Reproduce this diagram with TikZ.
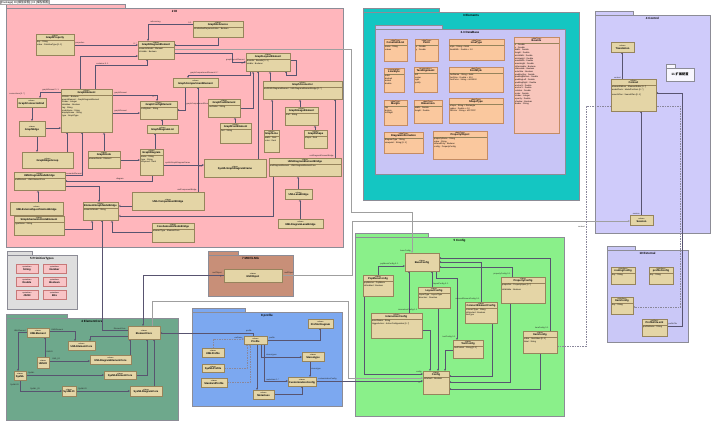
\documentclass[tikz,border=0pt]{standalone}
\usepackage{fontspec}
\setmainfont{Liberation Sans}
\newfontfamily\cjk{Noto Sans CJK SC}
\usetikzlibrary{arrows.meta,shadows}
\pgfdeclarelayer{pk}
\pgfdeclarelayer{ln}
\pgfsetlayers{pk,ln,main}
\definecolor{pinkDI}{RGB}{255,182,188}
\definecolor{cyanE}{RGB}{20,198,194}
\definecolor{lavIn}{RGB}{200,197,246}
\definecolor{lavCtl}{RGB}{207,203,250}
\definecolor{lavExt}{RGB}{202,200,247}
\definecolor{grayP}{RGB}{222,222,222}
\definecolor{brownM}{RGB}{200,143,120}
\definecolor{dgreen}{RGB}{110,168,140}
\definecolor{blueP}{RGB}{124,168,240}
\definecolor{lgreen}{RGB}{138,240,138}
\definecolor{tanC}{RGB}{228,213,166}
\definecolor{tanB}{RGB}{150,132,92}
\definecolor{orC}{RGB}{250,200,158}
\definecolor{orB}{RGB}{196,140,100}
\definecolor{bdC}{RGB}{248,198,188}
\definecolor{pkP}{RGB}{248,196,198}
\definecolor{pkB}{RGB}{200,120,120}
\definecolor{pkgB}{RGB}{140,140,150}
\definecolor{lnc}{RGB}{88,84,112}
\newcommand\stf{\fontsize{1.9}{2.3}\selectfont}
\newcommand\nmf{\fontsize{2.6}{3}\selectfont\bfseries}
\newcommand\hdf{\fontsize{2.4}{2.8}\selectfont}
\newcommand\atf{\fontsize{2.1}{2.7}\selectfont}
\newcommand\lbf{\fontsize{2}{2.4}\selectfont}
\newcommand\ptf{\fontsize{3}{3.4}\selectfont\bfseries}
\tikzset{
 cfill/.style={fill=tanC, draw=tanB},
 clsbox/.style={cfill, anchor=north west, inner sep=0pt, outer sep=0pt, line width=0.3pt,
   drop shadow={shadow xshift=0.5pt, shadow yshift=-0.5pt, fill=black, opacity=0.25}},
 hdr/.style={anchor=north, inner sep=0pt, align=center, font=\hdf},
 attr/.style={anchor=north west, inner sep=0pt, align=left, font=\atf},
 sepl/.style={draw=tanB, line width=0.2pt},
 pkgbody/.style={draw=pkgB, line width=0.4pt, inner sep=0pt, outer sep=0pt, anchor=north west},
 pkgtab/.style={draw=pkgB, line width=0.4pt, inner sep=0pt, outer sep=0pt, anchor=south west},
 ptitle/.style={anchor=north, inner sep=0pt, font=\ptf},
 conn/.style={draw=lnc, line width=0.3pt, -{Stealth[length=2.2pt,width=1.8pt]}},
 gen/.style={draw=lnc, line width=0.3pt, -{Triangle[open,length=2.4pt,width=2.4pt]}},
 dep/.style={draw=lnc!70, line width=0.3pt, dash pattern=on 1.5pt off 1pt, -{Stealth[length=2.2pt,width=1.8pt]}},
 lbl/.style={font=\lbf, inner sep=0.2pt, text=black!85},
}
\newcommand{\umlcls}[8]{%
 \pgfmathsetmacro\ucw{#4-#2}%
 \pgfmathsetmacro\uch{#5-#3}%
 \node[clsbox, minimum width=\ucw pt, minimum height=\uch pt] (#1) at (#2,#3) {};%
 \if\relax\detokenize{#8}\relax
  \node[hdr, anchor=center] (#1-h) at (#1.center) {{\stf #6}\\{\nmf #7}};%
 \else
  \node[hdr] (#1-h) at ([yshift=-0.6pt]#1.north) {{\stf #6}\\{\nmf #7}};%
  \draw[sepl] ([yshift=-6.2pt]#1.north west) -- ([yshift=-6.2pt]#1.north east);%
  \node[attr] (#1-a) at ([xshift=1pt,yshift=-6.8pt]#1.north west) {#8};%
 \fi}
\newcommand{\umlpkg}[8]{%
 \pgfmathsetmacro\upw{#4-#2}%
 \pgfmathsetmacro\uph{#5-#3}%
 \pgfmathsetmacro\utw{#6-#2}%
 \node[pkgtab, fill=#7, minimum width=\utw pt, minimum height=4pt] (#1-tab) at (#2,#3) {};%
 \node[pkgbody, fill=#7, minimum width=\upw pt, minimum height=\uph pt] (#1) at (#2,#3) {};%
 \node[ptitle] (#1-t) at ([yshift=-2.5pt]#1.north) {#8};}
\begin{document}
\begin{tikzpicture}[x=1pt,y=-1pt]
\useasboundingbox (0,0) rectangle (711,424);
\begin{pgfonlayer}{pk}
\fill[white] (0,0) rectangle (711,424);
\umlpkg{di}{6}{8}{343}{247}{125}{pinkDI}{2 DI}
\umlpkg{el}{363}{12}{579}{200}{439}{cyanE}{3 Elements}
\umlpkg{db}{375}{29}{565}{174}{442}{lavIn}{3.3 DataBase}
\umlpkg{ctl}{595}{15}{710}{233}{633}{lavCtl}{4 Control}
\umlpkg{p11}{666}{68}{694}{81}{675}{white!85!lavCtl}{}
\umlpkg{prim}{7}{255}{77}{309}{32}{grayP}{5 PrimitiveTypes}
\umlpkg{mof}{208}{255}{293}{296}{238}{brownM}{7 MOF/LMG}
\umlpkg{ec}{6}{318}{178}{420}{67}{dgreen}{4 ElementCore}
\umlpkg{pr}{192}{312}{342}{406}{245}{blueP}{8 profile}
\umlpkg{cf}{355}{237}{564}{416}{428}{lgreen}{5 Config}
\umlpkg{ex}{607}{250}{688}{342}{635}{lavExt}{10 External}
\node[font=\fontsize{3.2}{4}\selectfont\bfseries, inner sep=0pt] (p11-x) at (680,74.5) {11 {\cjk 扩展配置}};
\end{pgfonlayer}
\node[draw=gray!70, fill=white, anchor=north west, inner sep=0.4pt, font=\fontsize{2.8}{3}\selectfont] (ttl) at (0.2,0.2) {[Package] DI [{\cjk 模型视图}] | DI [{\cjk 模型视图}]};
% ---------- 2 DI ----------
\umlcls{gref}{193}{21}{243}{37}{«class»}{GraphReference}{isIndividualRepresentation : Boolean}
\umlcls{gprop}{36}{34}{74}{55}{«class»}{GraphProperty}{key : String\\value : PrimitiveType [0..1]}
\umlcls{gde}{138}{41}{174}{59}{«class»}{GraphDiagramElement}{semanticModel : Element\\isVisible : Boolean}
\umlcls{gle}{246}{53}{290}{71}{«class»}{GraphLayoutElement}{bounds : Bounds [0..1]\\visible : Boolean}
\umlcls{gcse}{173}{78}{218}{87}{«class»}{GraphCompartmentElement}{}
\umlcls{gcon}{263}{81}{342}{99}{«class»}{GraphConnector}{multiUMLDiagramElement : UMLDiagramElementBridge [0..*]}
\umlcls{gelem}{61}{89}{112}{132}{«class»}{GraphElement}{isStatic : Boolean\\parentElement : GraphDiagramElement\\zIndex : Integer\\isHidden : Boolean\\tag : String\\nodeName : String\\displayName : String\\type : GraphType}
\umlcls{gce}{17}{98}{46}{107}{«class»}{GraphConnectorEnd}{}
\umlcls{gcfg}{140}{101}{177}{119}{«class»}{GraphConfigElement}{configItem : String}
\umlcls{gtext}{208}{99}{240}{117}{«class»}{GraphTextElement}{textValue : String}
\umlcls{gimg}{285}{107}{318}{125}{«class»}{GraphImageElement}{href : String}
\umlcls{gedge}{19}{121}{45}{136}{«class»}{GraphEdge}{}
\umlcls{gdl}{147}{125}{178}{133}{«class»}{GraphDiagramList}{}
\umlcls{gfont}{220}{123}{251}{143}{«class»}{GraphFontElement}{font : String}
\umlcls{gline}{264}{130}{279}{152}{«class»}{GraphLine}{width : Real\\color : Real}
\umlcls{gshape}{304}{130}{327}{148}{«class»}{GraphShape}{shape : Real}
\umlcls{geg}{22}{152}{73}{168}{«class»}{GraphEdgeGroup}{}
\umlcls{gnode}{88}{151}{120}{168}{«class»}{GraphNode}{elementNode : Element}
\umlcls{gdiag}{140}{149}{163}{175}{«class»}{GraphDiagram}{name : String\\type : String\\isSynced : Real}
\umlcls{sgdf}{204}{159}{266}{177}{«class»}{SysMLGraphDiagramFrame}{}
\umlcls{udeb}{269}{158}{341}{176}{«class»}{UMLDiagramElementBridge}{umlDiagramElement : UMLDiagramElementCore}
\umlcls{udnb}{14}{172}{65}{190}{«class»}{UMLDiagramNodeBridge}{umlElement : UMLElementCore}
\umlcls{ucb}{132}{192}{204}{210}{«class»}{UMLCompartmentBridge}{}
\umlcls{ulb}{285}{189}{312}{199}{«class»}{UMLLaneBridge}{}
\umlcls{uesb}{10}{202}{63}{215}{«class»}{UMLExternalSpecificationBridge}{}
\umlcls{egnb}{83}{202}{118}{220}{«class»}{ElementGraphNodeBridge}{semanticModel : String}
\umlcls{ssne}{14}{216}{64}{235}{«class»}{SimpleSemanticNodeElement}{typeName : String}
\umlcls{csnb}{152}{223}{194}{242}{«class»}{CoreSemanticNodeBridge}{elementType : ElementCore}
\umlcls{udlb}{278}{219}{323}{228}{«class»}{UMLDiagramLaneBridge}{}
% ---------- 3 Elements ----------
\begin{scope}[cfill/.style={fill=orC, draw=orB}]
\umlcls{clist}{384}{39}{407}{61}{«dataType»}{ConstraintList}{name : String\\values}
\umlcls{point}{415}{39}{438}{61}{«dataType»}{Point}{x : Double\\y : Double}
\umlcls{ltype}{449}{39}{504}{60}{«dataType»}{LineType}{style : String = Solid\\lineWidth : Double = 1.0}
\umlcls{lstyle}{384}{68}{404}{92}{«enumeration»}{LineStyle}{solid\\dashed\\dotted\\double}
\umlcls{talign}{414}{67}{437}{92}{«enumeration»}{TextAlignment}{left\\center\\right\\justify}
\umlcls{fstyle}{449}{67}{503}{92}{«dataType»}{FontStyle}{fontName : String = Arial\\fontSize : Double = 10.0\\fontColor : String = \#000000}
\umlcls{margin}{384}{100}{407}{125}{«dataType»}{Margin}{top\\bottom\\leftRight}
\umlcls{dimen}{414}{100}{442}{123}{«dataType»}{Dimension}{width : Double\\height : Double}
\umlcls{stype}{449}{98}{503}{123}{«dataType»}{ShapeType}{shape : String = Rectangle\\radius : Double = 0.0\\fillColor : String = \#FFFFFF}
\umlcls{dinfo}{384}{132}{423}{153}{«dataType»}{DiagramInformation}{diagramType : String\\viewpoint : String [0..1]}
\umlcls{pobj}{433}{131}{487}{159}{«dataType»}{PropertyObject}{propertyName : String\\value : String\\isReadOnly : Boolean\\config : PropertyConfig}
\end{scope}
\begin{scope}[cfill/.style={fill=bdC, draw=orB}]
\umlcls{bounds}{514}{37}{559}{133}{«dataType»}{Bounds}{\fontsize{2.1}{3.45}\selectfont x : Double\\y : Double\\width : Double\\height : Double\\minWidth : Double\\minHeight : Double\\maxWidth : Double\\maxHeight : Double\\isResizable : Boolean\\isMovable : Boolean\\autoSize : Boolean\\paddingTop : Double\\paddingBottom : Double\\paddingLeft : Double\\paddingRight : Double\\anchorX : Double\\anchorY : Double\\rotation : Double\\scale : Double\\zIndex : Integer\\opacity : Double\\shadow : Boolean\\border : String}
\end{scope}
% ---------- 4 Control / 10 External ----------
\umlcls{trans}{611}{42}{634}{52}{«class»}{Translation}{}
\umlcls{context}{611}{79}{656}{111}{«class»}{Context}{elementEditors : ElementEditor [0..*]\\modelTools : ModelToolItem [0..*]\\\\searchPlan : SearchPlan [0..1]}
\umlcls{session}{630}{215}{653}{225}{«class»}{Session}{}
\umlcls{routecfg}{611}{267}{635}{284}{«interface»}{routingConfig}{key : String}
\umlcls{profcfg}{649}{267}{673}{284}{«interface»}{profileConfig}{key : String}
\umlcls{itemext}{611}{297}{633}{314}{«interface»}{ItemConfig}{key : String}
\umlcls{pfile}{642}{319}{667}{336}{«artifact»}{ProfileFile.xml}{profileName : String}
% ---------- 5 Primitive types / MOF ----------
\begin{scope}[cfill/.style={fill=pkP, draw=pkB}]
\umlcls{pstr}{16}{264}{38}{273}{«primitive»}{String}{}
\umlcls{pnum}{43}{264}{66}{273}{«primitive»}{Number}{}
\umlcls{pdbl}{16}{277}{38}{286}{«primitive»}{Double}{}
\umlcls{pbool}{43}{277}{66}{286}{«primitive»}{Boolean}{}
\umlcls{pjson}{16}{290}{38}{299}{«primitive»}{JSON}{}
\umlcls{pbits}{43}{290}{66}{299}{«primitive»}{Bits}{}
\end{scope}
\umlcls{mofobj}{224}{269}{282}{282}{«class»}{MofObject}{}
% ---------- 4 ElementCore ----------
\umlcls{ecore}{128}{326}{160}{339}{«class»}{ElementCore}{}
\umlcls{umlel}{27}{328}{49}{337}{«class»}{UMLElement}{}
\umlcls{umlec}{68}{341}{95}{350}{«class»}{UMLElementCore}{}
\umlcls{umlio}{37}{357}{49}{368}{«class»}{UMLIO}{}
\umlcls{udec}{90}{355}{131}{364}{«class»}{UMLDiagramElementCore}{}
\umlcls{sysml}{14}{371}{26}{380}{«class»}{SysML}{}
\umlcls{sysec}{104}{371}{136}{379}{«class»}{SysMLElementCore}{}
\umlcls{sysio}{62}{386}{76}{396}{«class»}{SysMLIO}{}
\umlcls{sysdc}{130}{386}{162}{396}{«class»}{SysMLDiagramCore}{}
% ---------- 8 profile ----------
\umlcls{pdiag}{308}{319}{333}{328}{«class»}{Profile Diagram}{}
\umlcls{profile}{244}{336}{267}{344}{«class»}{Profile}{}
\umlcls{umlprof}{202}{348}{224}{357}{«class»}{UMLProfile}{}
\umlcls{sysprof}{202}{364}{224}{372}{«class»}{SysMLProfile}{}
\umlcls{stdprof}{201}{378}{227}{387}{«class»}{StandardProfile}{}
\umlcls{stereo}{302}{352}{324}{361}{«class»}{Stereotype}{}
\umlcls{custcfg}{288}{377}{316}{386}{«class»}{CustomizationConfig}{}
\umlcls{metacls}{253}{390}{274}{399}{«class»}{Metaclass}{}
% ---------- 5 Config ----------
\umlcls{basecfg}{405}{253}{439}{271}{«class»}{BaseConfig}{}
\umlcls{popcfg}{363}{275}{393}{296}{«class»}{PopMenuConfig}{popMenus : PopMenu\\isEnabled : Boolean}
\umlcls{layoutcfg}{418}{287}{450}{308}{«class»}{LayoutConfig}{layoutType : LayoutType\\direction : Direction}
\umlcls{propcfg}{501}{277}{545}{303}{«class»}{PropertyConfig}{properties : PropertySpec [0..*]\\\\isEditable : Boolean}
\umlcls{conncfg}{465}{302}{497}{323}{«class»}{ConnectElementConfig}{connectType : String\\isDirected : Boolean\\lineType}
\umlcls{intercfg}{371}{313}{422}{338}{«class»}{InteractionConfig}{eventName : String\\triggerAction : ActionConfiguration [0..*]}
\umlcls{textcfg}{453}{340}{483}{358}{«class»}{TextConfig}{textFormat : String [0..1]}
\umlcls{itemcfg}{523}{331}{557}{353}{«class»}{ItemConfig}{value : ItemValue [0..1]\\label : String}
\umlcls{config}{423}{371}{449}{394}{«class»}{Config}{isDefault : Boolean}
% ---------- connectors ----------
\begin{pgfonlayer}{ln}
% DI
\draw[conn] (gref.west |- 0,24) -- (148,24) -- (gde.north -| 148,0);
\draw[conn] (gref.south -| 218,0) -- (218,45) -- (gde.east |- 0,45);
\draw[conn] (gprop.east |- 0,45) -- (gde.west |- 0,45);
\draw[conn] (gde.east |- 0,53) -- (232,53) -- (232,62) -- (gle.west |- 0,62);
\draw[conn, draw=gray!75] (gde.east |- 0,49) -- (351,49) -- (351,212) -- (412,212) -- (basecfg.north -| 412,0);
\draw[conn] (gelem.north -| 95,0) -- (95,65) -- (147,65) -- (gde.south -| 147,0);
\draw[conn] (gelem.north -| 80,0) -- (80,56) -- (gde.west |- 0,56);
\draw[conn] (gle.south -| 250,0) -- (250,75) -- (188,75) -- (gcse.north -| 188,0);
\draw[conn] (gcse.south -| 185,0) -- (185,110) -- (gcfg.east |- 0,110);
\draw[conn] (gelem.east |- 0,95) -- (157,95) -- (gcfg.north -| 157,0);
\draw[conn] (gelem.east |- 0,113) -- (gcfg.west |- 0,113);
\draw[conn] (gelem.west |- 0,92) -- (40,92) -- (gce.north -| 40,0);
\draw[conn] (gce.south -| 32,0) -- (gedge.north -| 32,0);
\draw[conn] (gedge.east |- 0,128) -- (gelem.west |- 0,128);
\draw[conn] (gedge.south -| 37,0) -- (geg.north -| 37,0);
\draw[conn] (geg.north -| 67,0) -- (gelem.south -| 67,0);
\draw[conn] (udnb.east |- 0,175) -- (82,175) -- (gelem.south -| 82,0);
\draw[gen] (gnode.north -| 104,0) -- (gelem.south -| 104,0);
\draw[conn] (gdiag.north -| 155,0) -- (gdl.south -| 155,0);
\draw[conn] (gnode.east |- 0,160) -- (gdiag.west |- 0,160);
\draw[conn] (gdiag.east |- 0,165) -- (sgdf.west |- 0,165);
\draw[conn] (gdiag.south -| 152,0) -- (152,181) -- (udnb.east |- 0,181);
\draw[conn] (udnb.east |- 0,186) -- (99,186) -- (egnb.north -| 99,0);
\draw[gen] (uesb.north -| 38,0) -- (udnb.south -| 38,0);
\draw[gen] (ssne.east |- 0,229) -- (92,229) -- (egnb.south -| 92,0);
\draw[gen] (ucb.west |- 0,206) -- (egnb.east |- 0,206);
\draw[gen] (csnb.west |- 0,232) -- (112,232) -- (egnb.south -| 112,0);
\draw[gen] (udeb.south -| 273,0) -- (273,216) -- (egnb.east |- 0,216);
\draw[gen] (ulb.north -| 298,0) -- (udeb.south -| 298,0);
\draw[gen] (udlb.north -| 300,0) -- (ulb.south -| 300,0);
\draw[conn] (udeb.north -| 335,0) -- (gcon.south -| 335,0);
\draw[conn] (ucb.north -| 198,0) -- (gcse.south -| 198,0);
\draw[gen] (gline.north -| 272,0) -- (gcon.south -| 272,0);
\draw[gen] (gshape.north -| 315,0) -- (gimg.south -| 315,0);
\draw[gen] (gimg.north -| 300,0) -- (gcon.south -| 300,0);
\draw[conn] (sgdf.north -| 258,0) -- (gle.south -| 258,0);
\draw[gen] (gcon.north -| 270,0) -- (gle.south -| 270,0);
\draw[conn] (gle.east |- 0,60) -- (296,60) -- (296,75) -- (286,75) -- (gle.south -| 286,0);
\draw[gen] (gfont.north -| 235,0) -- (gtext.south -| 235,0);
\draw[gen] (gtext.east |- 0,108) -- (253,108) -- (gle.south -| 253,0);
\draw[conn] (gdl.north -| 162,0) -- (gcfg.south -| 162,0);
% cross-package
\draw[conn] (ecore.west |- 0,330) -- (102,330) -- (egnb.south -| 102,0);
\draw[conn] (mofobj.west |- 0,275) -- (143,275) -- (ecore.north -| 143,0);
\draw[conn, draw=gray!75] (ecore.north -| 152,0) -- (152,301) -- (348,301) -- (348,378) -- (config.west |- 0,378);
\draw[conn, draw=gray!75] (mofobj.east |- 0,275) -- (352,275) -- (352,221) -- (session.west |- 0,221);
\draw[conn] (profile.north -| 253,0) -- (253,333) -- (ecore.east |- 0,333);
% ElementCore
\draw[conn] (umlel.west |- 0,332) -- (18,332) -- (sysml.north -| 18,0);
\draw[conn] (umlel.east |- 0,331) -- (75,331) -- (umlec.north -| 75,0);
\draw[conn] (ecore.west |- 0,336) -- (90,336) -- (umlec.north -| 90,0);
\draw[conn] (umlio.north -| 45,0) -- (umlel.south -| 45,0);
\draw[conn] (umlio.east |- 0,361) -- (udec.west |- 0,361);
\draw[conn] (udec.north -| 130,0) -- (ecore.south -| 130,0);
\draw[conn] (sysml.east |- 0,375) -- (sysec.west |- 0,375);
\draw[conn] (sysec.east |- 0,375) -- (147,375) -- (ecore.south -| 147,0);
\draw[conn] (sysml.south -| 20,0) -- (20,391) -- (sysio.west |- 0,391);
\draw[conn] (sysio.east |- 0,391) -- (sysdc.west |- 0,391);
\draw[conn] (sysdc.north -| 154,0) -- (ecore.south -| 154,0);
% profile
\draw[conn] (profile.east |- 0,340) -- (320,340) -- (pdiag.south -| 320,0);
\draw[dep] (umlprof.north -| 213,0) -- (213,339) -- (profile.west |- 0,339);
\draw[dep] (sysprof.east |- 0,368) -- (247,368) -- (profile.south -| 247,0);
\draw[dep] (stdprof.east |- 0,382) -- (250,382) -- (profile.south -| 250,0);
\draw[conn] (profile.south -| 257,0) -- (metacls.north -| 257,0);
\draw[conn] (profile.south -| 261,0) -- (261,357) -- (stereo.west |- 0,357);
\draw[conn] (profile.south -| 264,0) -- (264,381) -- (custcfg.west |- 0,381);
\draw[conn] (stereo.south -| 310,0) -- (custcfg.north -| 310,0);
\draw[conn] (metacls.east |- 0,394) -- (302,394) -- (custcfg.south -| 302,0);
\draw[conn] (custcfg.east |- 0,381) -- (config.west |- 0,381);
% Config
\draw[conn] (popcfg.north -| 378,0) -- (378,266) -- (basecfg.west |- 0,266);
\draw[conn] (popcfg.south -| 364,0) -- (364,374) -- (config.west |- 0,374);
\draw[conn] (layoutcfg.north -| 432,0) -- (basecfg.south -| 432,0);
\draw[conn] (layoutcfg.south -| 438,0) -- (config.north -| 438,0);
\draw[conn] (intercfg.north -| 409,0) -- (basecfg.south -| 409,0);
\draw[conn] (intercfg.east |- 0,330) -- (430,330) -- (config.north -| 430,0);
\draw[conn] (propcfg.north -| 512,0) -- (512,267) -- (basecfg.east |- 0,267);
\draw[conn] (propcfg.south -| 510,0) -- (510,382) -- (config.east |- 0,382);
\draw[conn] (conncfg.north -| 481,0) -- (481,262) -- (basecfg.east |- 0,262);
\draw[conn] (conncfg.south -| 492,0) -- (492,376) -- (config.east |- 0,376);
\draw[conn] (basecfg.south -| 436,0) -- (436,278) -- (457,278) -- (textcfg.north -| 457,0);
\draw[conn] (textcfg.west |- 0,350) -- (445,350) -- (config.north -| 445,0);
\draw[conn] (itemcfg.north -| 550,0) -- (550,258) -- (basecfg.east |- 0,258);
\draw[conn] (itemcfg.south -| 540,0) -- (540,389) -- (config.east |- 0,389);
\draw[dep] (itemcfg.east |- 0,346) -- (586,346) -- (586,106) -- (680,106) -- (680,307) -- (itemext.east |- 0,307);
% Control
\draw[conn] (context.north -| 622,0) -- (trans.south -| 622,0);
\draw[conn] (session.north -| 641,0) -- (context.south -| 641,0);
\draw[conn] (pfile.east |- 0,326) -- (682,326) -- (682,93) -- (context.east |- 0,93);
% labels
\node[lbl, anchor=south west] (L1) at (150,23.5) {referencing};
\node[lbl, anchor=south east] (L2) at (192,23.5) {0..1};
\node[lbl, anchor=south west] (L3) at (75,44.5) {properties};
\node[lbl, anchor=south east] (L4) at (137,44.5) {0..*};
\node[lbl, anchor=south east] (L5) at (245,61.5) {graphLayoutElement};
\node[lbl, anchor=north east] (L6) at (245,62.5) {0..*};
\node[lbl, anchor=south west] (L7) at (190,74.5) {graphCompartmentElement 0..*};
\node[lbl, anchor=south west] (L8) at (96,64.5) {container 0..1};
\node[lbl, anchor=south west] (L9) at (114,94.5) {graphElement};
\node[lbl, anchor=north east] (L10) at (156,96) {0..*};
\node[lbl, anchor=south west] (L11) at (114,112.5) {graphElement};
\node[lbl, anchor=south west] (L12) at (42,91.5) {graphElement 0..1};
\node[lbl, anchor=north west] (L13) at (9,93) {connections [0..*]};
\node[lbl, anchor=west] (L14) at (186,104) {graphCompartmentElement};
\node[lbl, anchor=south west] (L15) at (165,164.5) {sysMLGraphDiagramFrame};
\node[lbl, anchor=north east] (L16) at (203,166) {0..1};
\node[lbl, anchor=south west] (L17) at (66,174.5) {semanticElement};
\node[lbl, anchor=south] (L18) at (120,180.5) {diagram};
\node[lbl, anchor=south east] (L19) at (334,157.5) {umlDiagramElementBridge};
\node[lbl, anchor=south east] (L20) at (197,191.5) {umlComponentBridge};
\node[lbl, anchor=south east] (L21) at (126,329.5) {ElementCore};
\node[lbl, anchor=south east] (C1) at (411,252.5) {baseConfig};
\node[lbl, anchor=south west] (C2) at (380,265.5) {popMenuConfig 0..1};
\node[lbl, anchor=south west] (C3) at (433,285.5) {layoutConfig 0..1};
\node[lbl, anchor=south west] (C4) at (398,311.5) {interactionConfig 0..1};
\node[lbl, anchor=south east] (C5) at (511,275.5) {propertyConfig 0..1};
\node[lbl, anchor=south east] (C6) at (480,300.5) {connectElementConfig 0..1};
\node[lbl, anchor=south east] (C7) at (456,338.5) {textConfig 0..1};
\node[lbl, anchor=south east] (C8) at (549,329.5) {itemConfig 0..1};
\node[lbl, anchor=north east] (C9) at (422,382) {0..*};
\node[lbl, anchor=south east] (C10) at (422,373.5) {config};
\node[lbl, anchor=south east] (C11) at (585,228) {context};
\node[lbl, anchor=south east] (P1) at (243,338.5) {«refines»};
\node[lbl, anchor=south west] (P2) at (269,339.5) {profile};
\node[lbl, anchor=south west] (P3) at (266,356.5) {stereotypes};
\node[lbl, anchor=south west] (P4) at (266,380.5) {metaclass 0..*};
\node[lbl, anchor=south west] (P5) at (318,380.5) {customizationConfig};
\node[lbl, anchor=west] (P6) at (311,369) {stereotype};
\node[lbl, anchor=south east] (P7) at (252,332.5) {profile};
\node[lbl, anchor=south east] (E1) at (26,331.5) {UMLElement};
\node[lbl, anchor=south west] (E2) at (51,330.5) {UMLElement};
\node[lbl, anchor=west] (E3) at (46,352) {UMLIO};
\node[lbl, anchor=south west] (E4) at (52,360.5) {UML\_IO};
\node[lbl, anchor=south west] (E5) at (28,374.5) {SysML};
\node[lbl, anchor=east] (E6) at (19,385) {SysMLIO};
\node[lbl, anchor=south west] (E7) at (30,390.5) {SysML\_IO};
\node[lbl, anchor=south west] (E8) at (78,390.5) {SysMLIO};
\node[lbl, anchor=south east] (M1) at (222,274.5) {mofObject};
\node[lbl, anchor=north east] (M3) at (222,276) {1};
\node[lbl, anchor=south west] (M2) at (284,274.5) {mofObject};
\node[lbl, anchor=south east] (K1) at (621,78.5) {context};
\node[lbl, anchor=south east] (K2) at (640,214.5) {session};
\node[lbl, anchor=south west] (K3) at (668,325.5) {profileFile};
\end{pgfonlayer}
\end{tikzpicture}
\end{document}
